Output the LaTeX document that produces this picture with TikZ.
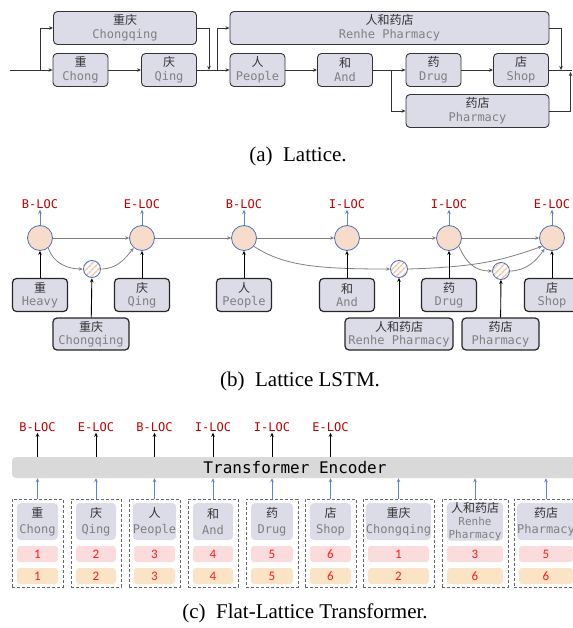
\documentclass[tikz,border=0pt]{standalone}
\usepackage{fontspec}
\setmainfont{Liberation Serif}
\setmonofont{DejaVu Sans Mono}
\newfontfamily\cjk{Noto Sans CJK SC}
\newfontfamily\numfont{Carlito}
\usetikzlibrary{arrows.meta,patterns.meta}

\definecolor{boxfill}{HTML}{DCDBE8}
\definecolor{boxline}{HTML}{333333}
\definecolor{zhgray}{HTML}{333333}
\definecolor{engray}{HTML}{808080}
\definecolor{cellfill}{HTML}{F8DCCB}
\definecolor{cellline}{HTML}{4A70B8}
\definecolor{hatch}{HTML}{F6C4A8}
\definecolor{tagred}{HTML}{C00000}
\definecolor{numred}{HTML}{FF1A1A}
\definecolor{posfill}{HTML}{FADCDC}
\definecolor{spanfill}{HTML}{FBE4C6}
\definecolor{encfill}{HTML}{D9D9D9}
\definecolor{linkgray}{HTML}{808080}
\definecolor{upblue}{HTML}{5B86CF}

\newcommand{\zh}[1]{{\cjk\color{zhgray}#1}}
\newcommand{\en}[1]{{\ttfamily\color{engray}#1}}

\begin{document}
\begin{tikzpicture}[
		x=1pt, y=-1pt,
		>={Stealth[length=4pt,width=3.5pt]},
		token/.style={
			rectangle,
			draw=boxline,
			line width=0.9pt,
			fill=boxfill,
			rounded corners=4pt,
			minimum width=55pt,
			minimum height=33pt,
			inner sep=0pt,
			align=center,
			font=\fontsize{12}{14}\selectfont
		},
		lstmbox/.style={
			token,
			draw=black!85,
			line width=1.2pt,
			font=\fontsize{12}{13}\selectfont
		},
		link/.style={->, draw=boxline, line width=0.9pt},
		glink/.style={->, draw=linkgray, line width=0.8pt},
		blink/.style={->, draw=upblue, line width=0.8pt},
		klink/.style={->, draw=black, line width=0.9pt},
		cell/.style={
			circle,
			draw=cellline,
			fill=cellfill,
			line width=0.8pt,
			minimum size=25pt,
			inner sep=0pt
		},
		wcell/.style={
			circle,
			draw=cellline,
			line width=0.8pt,
			minimum size=17pt,
			inner sep=0pt,
			preaction={fill=white},
			pattern={Lines[angle=45,distance=4pt,line width=1.6pt]},
			pattern color=hatch
		},
		tag/.style={font=\ttfamily\fontsize{12}{12}\selectfont, text=tagred, inner sep=1pt},
		caption/.style={font=\fontsize{21}{23}\selectfont},
		column/.style={
			rectangle,
			draw=black!60,
			line width=1pt,
			dash pattern=on 3pt off 2pt,
			minimum height=88pt,
			inner sep=0pt
		},
		flattoken/.style={
			rectangle,
			fill=boxfill,
			rounded corners=4pt,
			minimum height=37pt,
			inner sep=0pt,
			align=center,
			font=\fontsize{12}{16}\selectfont
		},
		posbox/.style={
			rectangle,
			fill=posfill,
			rounded corners=3pt,
			minimum height=16pt,
			inner sep=0pt,
			font=\numfont\fontsize{13}{13}\selectfont,
			text=numred
		},
		spanbox/.style={posbox, fill=spanfill}
		]
		\useasboundingbox (0,0) rectangle (572,628);

		% (a) lattice
		\coordinate (a-in) at (10,70);
		\coordinate (a-split0) at (40,70);
		\node[token] (a-chong) at (80.5,70) {\zh{重}\\\en{Chong}};
		\node[token, minimum width=143pt] (a-chongqing) at (125,28) {\zh{重庆}\\\en{Chongqing}};
		\node[token] (a-qing) at (169,70) {\zh{庆}\\\en{Qing}};
		\coordinate (a-join1) at (209,70);
		\coordinate (a-split1) at (217,70);
		\node[token] (a-ren) at (257.5,70) {\zh{人}\\\en{People}};
		\node[token, minimum width=319pt] (a-renhe) at (389.5,28) {\zh{人和药店}\\\en{Renhe Pharmacy}};
		\node[token] (a-he) at (345,70) {\zh{和}\\\en{And}};
		\coordinate (a-split2) at (391,70);
		\node[token] (a-yao) at (433.5,70) {\zh{药}\\\en{Drug}};
		\node[token] (a-dian) at (521,70) {\zh{店}\\\en{Shop}};
		\node[token, minimum width=143pt] (a-yaodian) at (477.5,111) {\zh{药店}\\\en{Pharmacy}};
		\coordinate (a-join2) at (561,70);
		\coordinate (a-join3) at (570.5,72);
		\coordinate (a-out) at (572,70);

		\draw[link] (a-in) -- (a-chong);
		\draw[link] (a-split0) |- (a-chongqing);
		\draw[link] (a-chong) -- (a-qing);
		\draw[link] (a-chongqing) -| (a-join1);
		\draw[link] (a-qing) -- (a-ren);
		\draw[link] (a-split1) |- (a-renhe);
		\draw[link] (a-ren) -- (a-he);
		\draw[link] (a-he) -- (a-yao);
		\draw[link] (a-split2) |- (a-yaodian);
		\draw[link] (a-yao) -- (a-dian);
		\draw[draw=boxline, line width=0.9pt] (a-dian) -- (a-out);
		\draw[link] (a-renhe) -| (a-join2);
		\draw[link] (a-yaodian) -| (a-join3);

		\node[caption] (a-caption) at (298,156) {(a)\enspace Lattice.};

		% (b) lattice LSTM
		\node[cell] (b-c1) at (40,238) {};
		\node[cell] (b-c2) at (142,238) {};
		\node[cell] (b-c3) at (244,238) {};
		\node[cell] (b-c4) at (347,238) {};
		\node[cell] (b-c5) at (449,238) {};
		\node[cell] (b-c6) at (552,238) {};
		\node[wcell] (b-w1) at (92,269) {};
		\node[wcell] (b-w2) at (399,269) {};
		\node[wcell] (b-w3) at (501,271) {};

		\node[tag] (b-t1) at (40,204) {B-LOC};
		\node[tag] (b-t2) at (142,204) {E-LOC};
		\node[tag] (b-t3) at (244,204) {B-LOC};
		\node[tag] (b-t4) at (347,204) {I-LOC};
		\node[tag] (b-t5) at (449,204) {I-LOC};
		\node[tag] (b-t6) at (552,204) {E-LOC};

		\node[lstmbox] (b-chong) at (40,295) {\zh{重}\\\en{Heavy}};
		\node[lstmbox] (b-qing) at (142,295) {\zh{庆}\\\en{Qing}};
		\node[lstmbox] (b-ren) at (244,295) {\zh{人}\\\en{People}};
		\node[lstmbox] (b-he) at (347,295) {\zh{和}\\\en{And}};
		\node[lstmbox] (b-yao) at (449,295) {\zh{药}\\\en{Drug}};
		\node[lstmbox] (b-dian) at (552,295) {\zh{店}\\\en{Shop}};
		\node[lstmbox, minimum width=76pt, minimum height=32pt] (b-chongqing) at (91,334) {\zh{重庆}\\\en{Chongqing}};
		\node[lstmbox, minimum width=108pt, minimum height=32pt] (b-renhe) at (399,334) {\zh{人和药店}\\\en{Renhe Pharmacy}};
		\node[lstmbox, minimum width=77pt, minimum height=32pt] (b-yaodian) at (500.5,334) {\zh{药店}\\\en{Pharmacy}};

		\draw[blink] (b-c1) -- (b-t1);
		\draw[blink] (b-c2) -- (b-t2);
		\draw[blink] (b-c3) -- (b-t3);
		\draw[blink] (b-c4) -- (b-t4);
		\draw[blink] (b-c5) -- (b-t5);
		\draw[blink] (b-c6) -- (b-t6);

		\draw[glink] (b-c1) -- (b-c2);
		\draw[glink] (b-c2) -- (b-c3);
		\draw[glink] (b-c3) -- (b-c4);
		\draw[glink] (b-c4) -- (b-c5);
		\draw[glink] (b-c5) -- (b-c6);
		\draw[glink] (b-c1.-50) .. controls +(5,16) and +(-14,0) .. (b-w1.west);
		\draw[glink] (b-w1.east) .. controls +(16,0) and +(-8,10) .. (b-c2.-130);
		\draw[glink] (b-c3.-40) .. controls +(30,20) and +(-70,0) .. (b-w2.west);
		\draw[glink] (b-w2.east) .. controls +(70,-2) and +(-40,14) .. (b-c6.-140);
		\draw[glink] (b-c5.-40) .. controls +(8,18) and +(-16,0) .. (b-w3.west);
		\draw[glink] (b-w3.east) .. controls +(16,0) and +(-8,12) .. (b-c6.-125);

		\draw[klink] (b-chong) -- (b-c1);
		\draw[klink] (b-qing) -- (b-c2);
		\draw[klink] (b-ren) -- (b-c3);
		\draw[klink] (b-he) -- (b-c4);
		\draw[klink] (b-yao) -- (b-c5);
		\draw[klink] (b-dian) -- (b-c6);
		\draw[klink] (b-chongqing) -- (b-w1);
		\draw[klink] (b-renhe) -- (b-w2);
		\draw[klink] (b-yaodian) -- (b-w3);

		\node[caption] (b-caption) at (300,381) {(b)\enspace Lattice LSTM.};

		% (c) flat-lattice transformer
		\node[rectangle, fill=encfill, rounded corners=4pt, minimum width=566pt, minimum height=21pt,
			  inner sep=0pt, font=\ttfamily\fontsize{16}{16}\selectfont] (c-enc) at (295,467.5) {Transformer Encoder};

		\node[tag] (c-t1) at (37.5,427) {B-LOC};
		\node[tag] (c-t2) at (96,427) {E-LOC};
		\node[tag] (c-t3) at (154.5,427) {B-LOC};
		\node[tag] (c-t4) at (213,427) {I-LOC};
		\node[tag] (c-t5) at (272,427) {I-LOC};
		\node[tag] (c-t6) at (330.5,427) {E-LOC};

		\node[column, minimum width=51pt] (c-d1) at (37.5,543) {};
		\node[column, minimum width=50pt] (c-d2) at (96,543) {};
		\node[column, minimum width=51pt] (c-d3) at (154.5,543) {};
		\node[column, minimum width=50pt] (c-d4) at (213,543) {};
		\node[column, minimum width=52pt] (c-d5) at (272,543) {};
		\node[column, minimum width=51pt] (c-d6) at (330.5,543) {};
		\node[column, minimum width=71pt] (c-d7) at (398.5,543) {};
		\node[column, minimum width=66pt] (c-d8) at (475,543) {};
		\node[column, minimum width=64pt] (c-d9) at (546,543) {};

		\node[flattoken, minimum width=41pt] (c-chong) at (37.5,521.5) {\zh{重}\\\en{Chong}};
		\node[flattoken, minimum width=40pt] (c-qing) at (96,521.5) {\zh{庆}\\\en{Qing}};
		\node[flattoken, minimum width=41pt] (c-ren) at (154.5,521.5) {\zh{人}\\\en{People}};
		\node[flattoken, minimum width=40pt] (c-he) at (213,521.5) {\zh{和}\\\en{And}};
		\node[flattoken, minimum width=42pt] (c-yao) at (272,521.5) {\zh{药}\\\en{Drug}};
		\node[flattoken, minimum width=41pt] (c-dian) at (330.5,521.5) {\zh{店}\\\en{Shop}};
		\node[flattoken, minimum width=61pt] (c-chongqing) at (398.5,521.5) {\zh{重庆}\\\en{Chongqing}};
		\node[flattoken, minimum width=56pt, font=\fontsize{11}{13}\selectfont] (c-renhe) at (475,521.5) {\zh{\fontsize{12}{13}\selectfont 人和药店}\\\en{Renhe}\\\en{Pharmacy}};
		\node[flattoken, minimum width=54pt] (c-yaodian) at (546,521.5) {\zh{药店}\\\en{Pharmacy}};

		\node[posbox, minimum width=41pt] (c-h1) at (37.5,554) {1};
		\node[posbox, minimum width=40pt] (c-h2) at (96,554) {2};
		\node[posbox, minimum width=41pt] (c-h3) at (154.5,554) {3};
		\node[posbox, minimum width=40pt] (c-h4) at (213,554) {4};
		\node[posbox, minimum width=42pt] (c-h5) at (272,554) {5};
		\node[posbox, minimum width=41pt] (c-h6) at (330.5,554) {6};
		\node[posbox, minimum width=61pt] (c-h7) at (398.5,554) {1};
		\node[posbox, minimum width=56pt] (c-h8) at (475,554) {3};
		\node[posbox, minimum width=54pt] (c-h9) at (546,554) {5};

		\node[spanbox, minimum width=41pt] (c-e1) at (37.5,576) {1};
		\node[spanbox, minimum width=40pt] (c-e2) at (96,576) {2};
		\node[spanbox, minimum width=41pt] (c-e3) at (154.5,576) {3};
		\node[spanbox, minimum width=40pt] (c-e4) at (213,576) {4};
		\node[spanbox, minimum width=42pt] (c-e5) at (272,576) {5};
		\node[spanbox, minimum width=41pt] (c-e6) at (330.5,576) {6};
		\node[spanbox, minimum width=61pt] (c-e7) at (398.5,576) {2};
		\node[spanbox, minimum width=56pt] (c-e8) at (475,576) {6};
		\node[spanbox, minimum width=54pt] (c-e9) at (546,576) {6};

		\draw[klink] (c-enc.north -| c-t1) -- (c-t1);
		\draw[klink] (c-enc.north -| c-t2) -- (c-t2);
		\draw[klink] (c-enc.north -| c-t3) -- (c-t3);
		\draw[klink] (c-enc.north -| c-t4) -- (c-t4);
		\draw[klink] (c-enc.north -| c-t5) -- (c-t5);
		\draw[klink] (c-enc.north -| c-t6) -- (c-t6);

		\draw[blink] (c-d1) -- (c-d1 |- c-enc.south);
		\draw[blink] (c-d2) -- (c-d2 |- c-enc.south);
		\draw[blink] (c-d3) -- (c-d3 |- c-enc.south);
		\draw[blink] (c-d4) -- (c-d4 |- c-enc.south);
		\draw[blink] (c-d5) -- (c-d5 |- c-enc.south);
		\draw[blink] (c-d6) -- (c-d6 |- c-enc.south);
		\draw[blink] (c-d7) -- (c-d7 |- c-enc.south);
		\draw[blink] (c-d8) -- (c-d8 |- c-enc.south);
		\draw[blink] (c-d9) -- (c-d9 |- c-enc.south);

		\node[caption] (c-caption) at (305,613) {(c)\enspace Flat-Lattice Transformer.};
\end{tikzpicture}
\end{document}
